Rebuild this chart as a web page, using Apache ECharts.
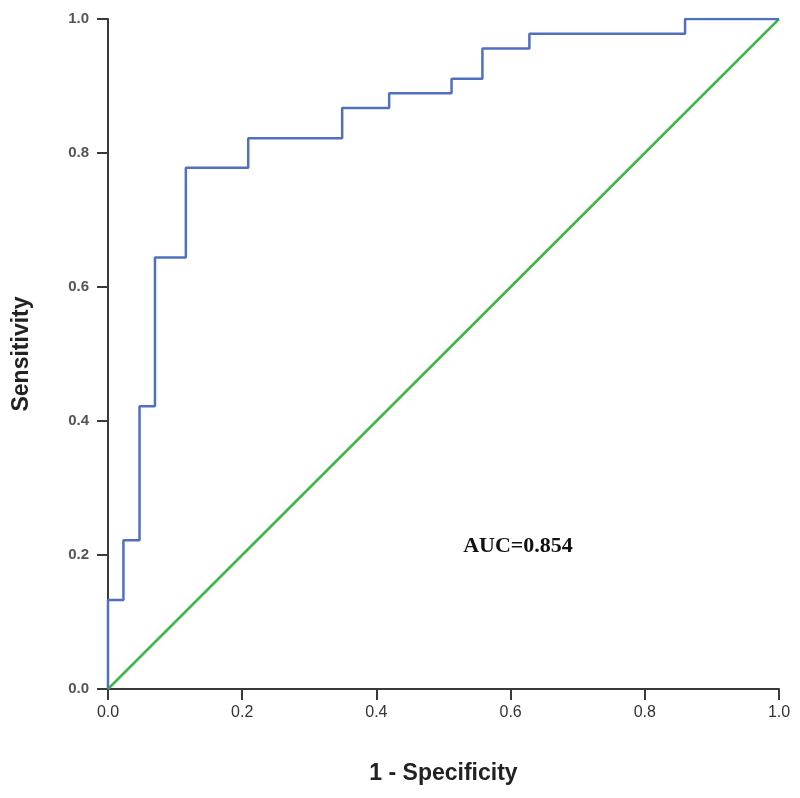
<!DOCTYPE html>
<html>
<head>
<meta charset="utf-8">
<script src="https://cdn.jsdelivr.net/npm/echarts@6/dist/echarts.min.js"></script>
<style>
  html, body { margin: 0; padding: 0; background: #fff; }
  #rocChart { width: 800px; height: 798px; }
</style>
</head>
<body>
<div id="rocChart"></div>
<script>
// ROC curve corner points
const fpr = [0, 0, 0.023, 0.023, 0.047, 0.047, 0.070, 0.070, 0.116, 0.116, 0.209, 0.209,
  0.349, 0.349, 0.419, 0.419, 0.512, 0.512, 0.558, 0.558, 0.628, 0.628, 0.860, 0.860, 1.0];
const tpr = [0, 0.133, 0.133, 0.222, 0.222, 0.422, 0.422, 0.644, 0.644, 0.778, 0.778, 0.822,
  0.822, 0.867, 0.867, 0.889, 0.889, 0.911, 0.911, 0.956, 0.956, 0.978, 0.978, 1.0, 1.0];
// reference line
const refX = [0, 1];
const refY = [0, 1];
const aucText = "AUC=0.854";

let chart = echarts.init(document.getElementById("rocChart"));

const axisStyle = {
  axisLine: { show: true, lineStyle: { color: "#3a3a3a", width: 2 } },
  axisTick: { show: true, length: 11, lineStyle: { color: "#3a3a3a", width: 2 } },
  splitLine: { show: false },
};

let option = {
  animation: false,
  grid: { left: 108, right: 21, top: 19, bottom: 109 },
  xAxis: {
    type: "value",
    min: 0,
    max: 1,
    interval: 0.2,
    name: "1 - Specificity",
    nameLocation: "middle",
    nameGap: 73,
    nameTextStyle: { fontFamily: "Liberation Sans", fontSize: 23, fontWeight: "bold", color: "#222" },
    axisLabel: {
      margin: 16,
      fontFamily: "Liberation Sans",
      fontSize: 16,
      color: "#333",
      formatter: (v) => v.toFixed(1),
    },
    ...axisStyle,
  },
  yAxis: {
    type: "value",
    min: 0,
    max: 1,
    interval: 0.2,
    name: "Sensitivity",
    nameLocation: "middle",
    nameGap: 75,
    nameTextStyle: { fontFamily: "Liberation Sans", fontSize: 23, fontWeight: "bold", color: "#222" },
    axisLabel: {
      margin: 19,
      fontFamily: "Liberation Sans",
      fontSize: 15,
      fontWeight: "bold",
      color: "#555",
      formatter: (v) => v.toFixed(1),
    },
    ...axisStyle,
  },
  series: [
    {
      name: "reference",
      type: "line",
      data: refX.map((x, i) => [x, refY[i]]),
      symbol: "none",
      lineStyle: { color: "#3fb54a", width: 2.5 },
      z: 2,
    },
    {
      name: "ROC",
      type: "line",
      data: fpr.map((x, i) => [x, tpr[i]]),
      symbol: "none",
      lineStyle: { color: "#5070bf", width: 2.5 },
      z: 3,
      markPoint: {
        symbol: "circle",
        symbolSize: 0,
        data: [{ coord: [0.611, 0.213], value: aucText }],
        label: {
          show: true,
          formatter: aucText,
          fontFamily: "Liberation Serif",
          fontWeight: "bold",
          fontSize: 22,
          color: "#111",
        },
      },
    },
  ],
};

option && chart.setOption(option);
</script>
</body>
</html>
